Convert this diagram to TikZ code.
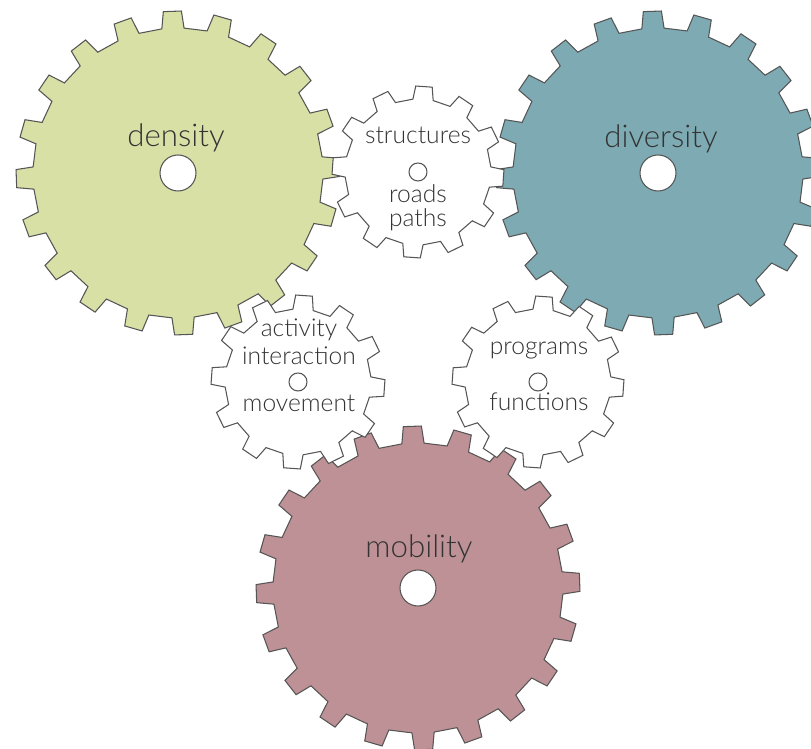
\documentclass[tikz,border=0pt]{standalone}
\usepackage{fontspec}
\setmainfont{Lato}[UprightFont={* Light}]
\usepackage{xcolor}

\definecolor{densitygreen}{HTML}{D8E0A6}
\definecolor{diversityblue}{HTML}{7EAAB3}
\definecolor{mobilityrose}{HTML}{BD9195}
\definecolor{gearedge}{HTML}{555555}
\definecolor{inkgray}{HTML}{333333}

\newcommand{\gearbody}[8]{%
    \path[#1, shift={(#2)}] (#8-#6:#4)
        \foreach \t [evaluate=\t as \a using #8+360/#3*(\t-1)] in {1,...,#3} {
            -- (\a-#7:#5) -- (\a+#7:#5) -- (\a+#6:#4) -- (\a+360/#3-#6:#4)
        } -- cycle;
}

\begin{document}
\begin{tikzpicture}[x=0.02cm, y=0.02cm,
    gearline/.style={draw=gearedge, line width=0.6pt, line join=miter},
    hole/.style={circle, draw=gearedge, line width=0.6pt, fill=white, inner sep=0pt},
    bighole/.style={hole, minimum size=0.72cm},
    smallhole/.style={hole, minimum size=0.36cm},
    biglabel/.style={font=\fontsize{17.8}{20}\selectfont, text=inkgray, inner sep=0pt, anchor=base},
    smalllabel/.style={font=\fontsize{14}{15}\selectfont, text=inkgray, inner sep=0pt, anchor=base},
]
    \useasboundingbox (0,0) rectangle (811,749);

    \coordinate (den) at (178,576);
    \coordinate (div) at (658,576);
    \coordinate (mob) at (418,161);
    \coordinate (str) at (418,577);
    \coordinate (act) at (298,367);
    \coordinate (pro) at (538,367);

    \gearbody{gearline, fill=densitygreen}{den}{20}{145}{162}{4.4}{3.2}{92}
    \gearbody{gearline, fill=diversityblue}{div}{20}{145}{162}{4.4}{3.2}{92}
    \gearbody{gearline, fill=mobilityrose}{mob}{20}{145}{162}{4.4}{3.2}{92}
    \node[bighole] (denhole) at (den) {};
    \node[bighole] (divhole) at (div) {};
    \node[bighole] (mobhole) at (mob) {};

    \gearbody{gearline, fill=white}{str}{12}{73}{86}{8}{5.5}{86}
    \gearbody{gearline, fill=white}{act}{12}{73}{87}{8}{5.5}{86}
    \gearbody{gearline, fill=white}{pro}{12}{73}{86}{8}{5.5}{86}
    \node[smallhole] (strhole) at (str) {};
    \node[smallhole] (acthole) at (act) {};
    \node[smallhole] (prohole) at (pro) {};

    \node[biglabel] (denlab) at (176,602) {density};
    \node[biglabel] (divlab) at (661,601) {diversity};
    \node[biglabel] (moblab) at (419,191) {mobility};

    \node[smalllabel] (strlab) at (418,605) {structures};
    \node[smalllabel] (roadlab) at (418,546) {roads};
    \node[smalllabel] (pathlab) at (418,522) {paths};
    \node[smalllabel] (actlab) at (299,412) {activity};
    \node[smalllabel] (intlab) at (299,384) {interaction};
    \node[smalllabel] (movlab) at (299,337) {movement};
    \node[smalllabel] (prolab) at (539,394) {programs};
    \node[smalllabel] (funlab) at (539,338) {functions};
\end{tikzpicture}
\end{document}
